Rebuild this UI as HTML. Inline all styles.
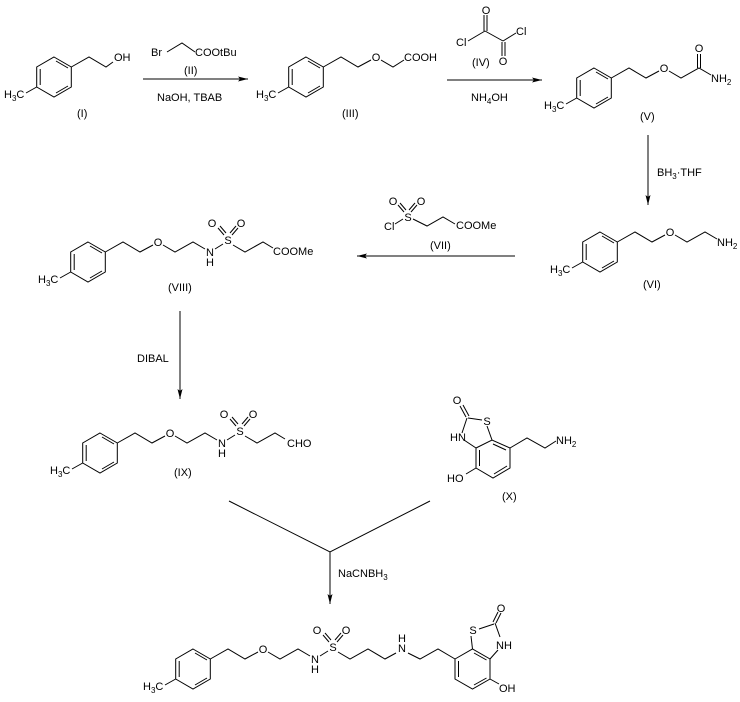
<!DOCTYPE html>
<html><head><meta charset="utf-8"><style>
html,body{margin:0;padding:0;background:#fff;}
svg{display:block;}
text{font-family:"Liberation Sans",Arial,sans-serif;font-size:11px;fill:#000;}
.s{font-size:8px;}
line,polyline,polygon.b{stroke:#000;stroke-width:1;fill:none;}
</style></head><body>
<svg width="740" height="702" viewBox="0 0 740 702" xmlns="http://www.w3.org/2000/svg">
<defs>
<g id="tol">
<polygon class="b" points="0,-20 17.3,-10 17.3,10 0,20 -17.3,10 -17.3,-10"/>
<line x1="-13.8" y1="-8" x2="-13.8" y2="8"/>
<line x1="2" y1="-16" x2="14" y2="-9"/>
<line x1="2" y1="16" x2="14" y2="9"/>
<line x1="-17.3" y1="10" x2="-28" y2="16"/>
</g>
<marker id="ah" viewBox="0 0 10 6" refX="10" refY="3" markerWidth="10" markerHeight="6" markerUnits="userSpaceOnUse" orient="auto">
<polygon points="0,0.5 10,3 0,5.5 2,3" fill="#000"/>
</marker>
</defs>

<!-- (I) -->
<g transform="translate(54,77)">
<use href="#tol"/>
<text x="-50" y="21">H<tspan class="s" dy="3">3</tspan><tspan dy="-3">C</tspan></text>
<polyline points="17.3,-10 35,-20 52,-10 59,-15"/>
<text x="60" y="-16">OH</text>
<text x="23" y="40">(I)</text>
</g>

<!-- arrow 1 -->
<line x1="143" y1="79" x2="248" y2="79" marker-end="url(#ah)"/>
<text x="151" y="56">Br</text>
<polyline points="167,52 182,43 195,52"/>
<text x="195" y="56">COOtBu</text>
<text x="184" y="74">(II)</text>
<text x="157" y="101">NaOH, TBAB</text>

<!-- (III) -->
<g transform="translate(306,77)">
<use href="#tol"/>
<text x="-50" y="21">H<tspan class="s" dy="3">3</tspan><tspan dy="-3">C</tspan></text>
<polyline points="17.3,-10 35,-20 52,-10 65,-17"/>
<text x="70" y="-16" text-anchor="middle">O</text>
<polyline points="75,-17 87,-10 98,-17"/>
<text x="98" y="-16">COOH</text>
<text x="36" y="40">(III)</text>
</g>

<!-- arrow 2 -->
<line x1="447" y1="80" x2="542" y2="80" marker-end="url(#ah)"/>
<text x="456" y="46">Cl</text>
<line x1="468" y1="41" x2="485" y2="31"/>
<line x1="485" y1="31" x2="503" y2="41"/>
<line x1="503" y1="41" x2="516" y2="33"/>
<text x="516" y="35">Cl</text>
<line x1="484" y1="31" x2="484" y2="15"/><line x1="487" y1="31" x2="487" y2="15"/>
<text x="486" y="14" text-anchor="middle">O</text>
<line x1="502" y1="42" x2="502" y2="56"/><line x1="505" y1="42" x2="505" y2="56"/>
<text x="503" y="65" text-anchor="middle">O</text>
<text x="472" y="66">(IV)</text>
<text x="471" y="101">NH<tspan class="s" dy="3">4</tspan><tspan dy="-3">OH</tspan></text>

<!-- (V) -->
<g transform="translate(594,88)">
<use href="#tol"/>
<text x="-50" y="21">H<tspan class="s" dy="3">3</tspan><tspan dy="-3">C</tspan></text>
<polyline points="17.3,-10 35,-20 52,-10 65,-17"/>
<text x="70" y="-16" text-anchor="middle">O</text>
<polyline points="75,-17 87,-10 105,-20 117,-13"/>
<line x1="103.5" y1="-20" x2="103.5" y2="-34"/><line x1="106.5" y1="-20" x2="106.5" y2="-34"/>
<text x="105" y="-36" text-anchor="middle">O</text>
<text x="117" y="-6">NH<tspan class="s" dy="3">2</tspan></text>
<text x="46" y="32">(V)</text>
</g>

<!-- arrow 3 -->
<line x1="648" y1="135" x2="648" y2="205" marker-end="url(#ah)"/>
<text x="657" y="176">BH<tspan class="s" dy="3">3</tspan><tspan dy="-3">·THF</tspan></text>

<!-- (VI) -->
<g transform="translate(600,252)">
<use href="#tol"/>
<text x="-50" y="21">H<tspan class="s" dy="3">3</tspan><tspan dy="-3">C</tspan></text>
<polyline points="17.3,-10 35,-20 52,-10 65,-17"/>
<text x="70" y="-16" text-anchor="middle">O</text>
<polyline points="75,-17 87,-10 105,-20 117,-13"/>
<text x="117" y="-6">NH<tspan class="s" dy="3">2</tspan></text>
<text x="43" y="36">(VI)</text>
</g>

<!-- arrow 4 -->
<line x1="515" y1="256" x2="357" y2="256" marker-end="url(#ah)"/>
<text x="384" y="230">Cl</text>
<line x1="395" y1="224" x2="403" y2="219"/>
<text x="408" y="221" text-anchor="middle">S</text>
<line x1="398" y1="205" x2="404" y2="212"/><line x1="400" y1="203" x2="406" y2="210"/>
<text x="393" y="205" text-anchor="middle">O</text>
<line x1="417" y1="205" x2="411" y2="212"/><line x1="415" y1="203" x2="409" y2="210"/>
<text x="421" y="205" text-anchor="middle">O</text>
<polyline points="413,219 427,226 443,217 455,224"/>
<text x="456" y="229">COOMe</text>
<text x="430" y="249">(VII)</text>

<!-- (VIII) -->
<g transform="translate(88,262)">
<use href="#tol"/>
<text x="-50" y="21">H<tspan class="s" dy="3">3</tspan><tspan dy="-3">C</tspan></text>
<polyline points="17.3,-10 35,-20 52,-10 65,-17"/>
<text x="70" y="-16" text-anchor="middle">O</text>
<polyline points="75,-17 87,-10 105,-20 117,-13"/>
<text x="122" y="-6" text-anchor="middle">N</text>
<text x="122" y="4" text-anchor="middle">H</text>
<line x1="127" y1="-13" x2="135" y2="-18"/>
<text x="140" y="-18" text-anchor="middle">S</text>
<line x1="130" y1="-34" x2="136" y2="-27"/><line x1="132" y1="-36" x2="138" y2="-29"/>
<text x="124" y="-35" text-anchor="middle">O</text>
<line x1="150" y1="-34" x2="144" y2="-27"/><line x1="148" y1="-36" x2="142" y2="-29"/>
<text x="153" y="-35" text-anchor="middle">O</text>
<polyline points="145,-17 157,-10 175,-20 185,-14"/>
<text x="185" y="-7">COOMe</text>
<text x="80" y="29">(VIII)</text>
</g>

<!-- arrow 5 -->
<line x1="180" y1="311" x2="180" y2="399" marker-end="url(#ah)"/>
<text x="137" y="362">DIBAL</text>

<!-- (IX) -->
<g transform="translate(100,453)">
<use href="#tol"/>
<text x="-50" y="21">H<tspan class="s" dy="3">3</tspan><tspan dy="-3">C</tspan></text>
<polyline points="17.3,-10 35,-20 52,-10 65,-17"/>
<text x="70" y="-16" text-anchor="middle">O</text>
<polyline points="75,-17 87,-10 105,-20 117,-13"/>
<text x="122" y="-6" text-anchor="middle">N</text>
<text x="122" y="4" text-anchor="middle">H</text>
<line x1="127" y1="-13" x2="135" y2="-18"/>
<text x="140" y="-18" text-anchor="middle">S</text>
<line x1="130" y1="-34" x2="136" y2="-27"/><line x1="132" y1="-36" x2="138" y2="-29"/>
<text x="124" y="-35" text-anchor="middle">O</text>
<line x1="150" y1="-34" x2="144" y2="-27"/><line x1="148" y1="-36" x2="142" y2="-29"/>
<text x="153" y="-35" text-anchor="middle">O</text>
<polyline points="145,-17 157,-10 175,-20 185,-14"/>
<text x="187" y="-6">CHO</text>
<text x="74" y="23">(IX)</text>
</g>

<!-- (X) -->
<polygon class="b" points="476,448 492,440 510,448 510,468 493,478 476,468"/>
<line x1="479.5" y1="450" x2="479.5" y2="466"/>
<line x1="493" y1="444" x2="506" y2="450"/>
<line x1="494" y1="474" x2="507" y2="466"/>
<polyline points="492,440 487,426"/>
<text x="487" y="425" text-anchor="middle">S</text>
<line x1="482" y1="420" x2="468" y2="418"/>
<line x1="467" y1="418" x2="462" y2="433"/>
<line x1="476" y1="448" x2="464" y2="440"/>
<line x1="466" y1="417" x2="460" y2="406"/><line x1="469" y1="416" x2="463" y2="405"/>
<text x="457" y="404" text-anchor="middle">O</text>
<text x="450" y="441">HN</text>
<line x1="476" y1="468" x2="466" y2="474"/>
<text x="447" y="482">HO</text>
<polyline points="510,448 527,438 545,448 556,441"/>
<text x="556" y="444">NH<tspan class="s" dy="3">2</tspan></text>
<text x="502" y="500">(X)</text>

<!-- convergent arrow -->
<polyline points="229,501 330,552 430,501"/>
<line x1="330" y1="552" x2="330" y2="604" marker-end="url(#ah)"/>
<text x="338" y="577">NaCNBH<tspan class="s" dy="3">3</tspan></text>

<!-- final product -->
<g transform="translate(193,669)">
<use href="#tol"/>
<text x="-50" y="21">H<tspan class="s" dy="3">3</tspan><tspan dy="-3">C</tspan></text>
<polyline points="17.3,-10 35,-20 52,-10 65,-17"/>
<text x="70" y="-16" text-anchor="middle">O</text>
<polyline points="75,-17 87,-10 105,-20 117,-13"/>
<text x="122" y="-6" text-anchor="middle">N</text>
<text x="122" y="4" text-anchor="middle">H</text>
<line x1="127" y1="-13" x2="135" y2="-18"/>
<text x="140" y="-18" text-anchor="middle">S</text>
<line x1="130" y1="-34" x2="136" y2="-27"/><line x1="132" y1="-36" x2="138" y2="-29"/>
<text x="124" y="-35" text-anchor="middle">O</text>
<line x1="150" y1="-34" x2="144" y2="-27"/><line x1="148" y1="-36" x2="142" y2="-29"/>
<text x="153" y="-35" text-anchor="middle">O</text>
<polyline points="145,-17 157,-10 175,-20 192,-10 203,-16"/>
<text x="209" y="-17" text-anchor="middle">N</text>
<text x="209" y="-27" text-anchor="middle">H</text>
<polyline points="215,-16 227,-10 245,-20 262,-10"/>
<polygon class="b" points="262,-10 279.5,-20 297,-10 297,10 279.5,20 262,10"/>
<line x1="265.5" y1="-8" x2="265.5" y2="8"/>
<line x1="281" y1="-16" x2="293.5" y2="-9"/>
<line x1="281" y1="16" x2="293.5" y2="9"/>
<line x1="279.5" y1="-20" x2="278" y2="-33"/>
<text x="280" y="-35" text-anchor="middle">S</text>
<line x1="286" y1="-40" x2="301" y2="-45"/>
<line x1="302" y1="-46" x2="307" y2="-32"/>
<line x1="297" y1="-10" x2="305" y2="-19"/>
<line x1="300" y1="-47" x2="305" y2="-57"/><line x1="303" y1="-46" x2="308" y2="-56"/>
<text x="308" y="-57" text-anchor="middle">O</text>
<text x="303" y="-20">NH</text>
<line x1="297" y1="10" x2="306" y2="15"/>
<text x="306" y="23">OH</text>
</g>
</svg>
</body></html>
